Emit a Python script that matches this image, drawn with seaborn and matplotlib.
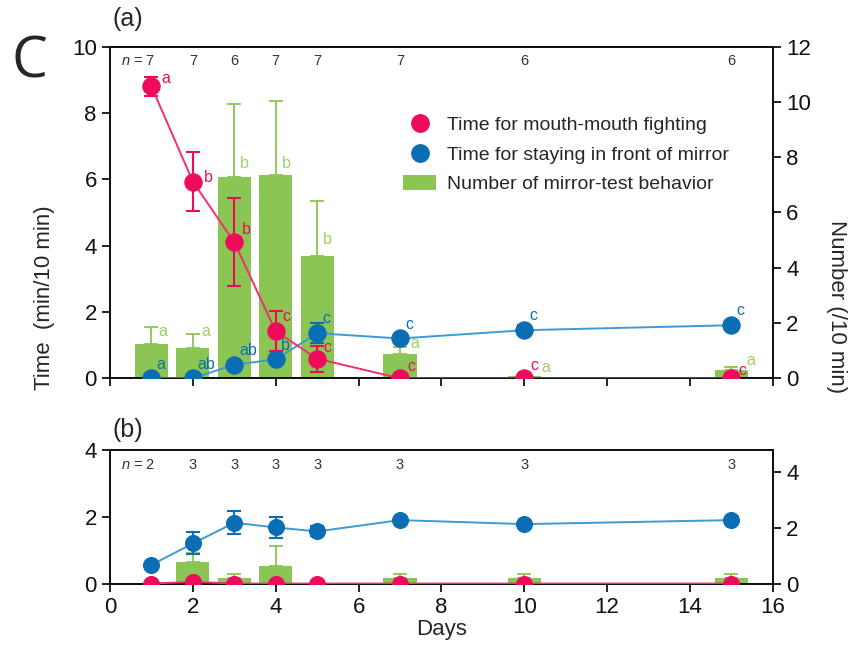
import numpy as np
import pandas as pd
import matplotlib
matplotlib.use("Agg")
import matplotlib.pyplot as plt
from matplotlib.lines import Line2D
from matplotlib.patches import Patch
import seaborn as sns

# ---------------- data ----------------
days = [1, 2, 3, 4, 5, 7, 10, 15]

# panel (a)
a_fight = [8.8, 5.93, 4.1, 1.42, 0.59, 0.0, 0.0, 0.0]
a_fight_err = [0.29, 0.9, 1.33, 0.61, 0.39, 0.0, 0.0, 0.0]
a_mirror = [0.0, 0.0, 0.41, 0.57, 1.36, 1.2, 1.45, 1.6]
a_mirror_err = [0.0, 0.0, 0.05, 0.08, 0.31, 0.1, 0.15, 0.1]
a_count = [1.25, 1.1, 7.28, 7.37, 4.43, 0.89, 0.08, 0.31]
a_count_err = [0.6, 0.51, 2.65, 2.65, 2.0, 0.25, 0.05, 0.1]
a_n = ["7", "7", "6", "7", "7", "7", "6", "6"]
a_fight_letters = ["a", "b", "b", "c", "c", "c", "c", "c"]
a_mirror_letters = ["a", "ab", "ab", "b", "c", "c", "c", "c"]
a_count_letters = ["a", "a", "b", "b", "b", "a", "a", "a"]

# panel (b)
b_fight = [0.0, 0.05, 0.0, 0.0, 0.0, 0.0, 0.0, 0.0]
b_mirror = [0.56, 1.2, 1.82, 1.68, 1.56, 1.9, 1.78, 1.9]
b_mirror_err = [0.0, 0.33, 0.34, 0.32, 0.15, 0.05, 0.05, 0.05]
b_count = [0.0, 0.78, 0.2, 0.64, 0.0, 0.2, 0.2, 0.2]
b_count_err = [0.0, 0.32, 0.13, 0.7, 0.0, 0.13, 0.13, 0.13]
b_n = ["2", "3", "3", "3", "3", "3", "3", "3"]

legend_labels = ["Time for mouth-mouth fighting",
                 "Time for staying in front of mirror",
                 "Number of mirror-test behavior"]

# ---------------- style ----------------
RED = "#EE0B5B"
RED_L = "#F0306F"
BLUE = "#0B6DB4"
BLUE_L = "#3F9AD3"
GREEN = "#8BC553"
GREEN_T = "#9ED064"

sns.set_style("ticks")
plt.rcParams["font.family"] = ["Liberation Sans", "DejaVu Sans"]
plt.rcParams["mathtext.fontset"] = "custom"
plt.rcParams["mathtext.it"] = "Liberation Sans:italic"
plt.rcParams["mathtext.rm"] = "Liberation Sans"

fig = plt.figure(figsize=(8.53, 6.46), dpi=100)
ax_a = fig.add_axes([0.129, 0.4144, 0.777, 0.5134])
ax_b = fig.add_axes([0.129, 0.0967, 0.777, 0.2067])

TICK_FS = 16
LABEL_FS = 16
LET_FS = 11.5


def style_axes(ax, ax2):
    for a in (ax, ax2):
        for s in a.spines.values():
            s.set_linewidth(1.4)
            s.set_color("#111111")
            s.set_visible(True)
    ax.tick_params(axis="both", direction="out", length=6, width=1.3,
                   labelsize=TICK_FS, top=False, right=False, colors="#111111")
    ax2.tick_params(axis="y", direction="out", length=6, width=1.3,
                    labelsize=TICK_FS, colors="#111111")
    ax.set_zorder(ax2.get_zorder() + 1)
    ax.patch.set_visible(False)


def draw_panel(ax, fight, fight_err, mirror, mirror_err, count, count_err, ylim, msize):
    ax2 = ax.twinx()
    df_c = pd.DataFrame({"day": days, "count": count})
    sns.barplot(data=df_c, x="day", y="count", native_scale=True, ax=ax2,
                color=GREEN, saturation=1, errorbar=None, linewidth=0, width=0.8)
    ax2.errorbar(days, count, yerr=[np.zeros(len(count)), count_err], fmt="none",
                 ecolor=GREEN, elinewidth=1.3, capsize=5, capthick=1.3)
    df = pd.DataFrame({"day": days, "fight": fight, "mirror": mirror})
    ax.errorbar(days, mirror, yerr=mirror_err, fmt="none", ecolor=BLUE,
                elinewidth=1.5, capsize=5, capthick=1.5, zorder=3)
    sns.lineplot(data=df, x="day", y="mirror", ax=ax, color=BLUE_L, lw=1.4,
                 marker="o", markersize=msize, markerfacecolor=BLUE,
                 markeredgecolor=BLUE, zorder=4)
    ax.errorbar(days, fight, yerr=fight_err, fmt="none", ecolor=RED,
                elinewidth=1.5, capsize=5, capthick=1.5, zorder=5)
    sns.lineplot(data=df, x="day", y="fight", ax=ax, color=RED_L, lw=1.4,
                 marker="o", markersize=msize, markerfacecolor=RED,
                 markeredgecolor=RED, zorder=6)
    ax.set_xlim(0, 16)
    ax.set_ylim(0, ylim)
    ax2.set_ylim(0, ylim * 1.2)
    ax2.set_xlim(0, 16)
    ax.set_xlabel("")
    ax.set_ylabel("")
    ax2.set_xlabel("")
    ax2.set_ylabel("")
    style_axes(ax, ax2)
    return ax2


# ---------------- panel (a) ----------------
ax2_a = draw_panel(ax_a, a_fight, a_fight_err, a_mirror, a_mirror_err,
                   a_count, a_count_err, 10, 12.5)
ax_a.set_xticks(range(0, 17, 2))
ax_a.set_xticklabels([])
ax_a.set_yticks(range(0, 11, 2))
ax2_a.set_yticks(range(0, 13, 2))

# letters
red_dx = [0.25, 0.27, 0.19, 0.15, 0.15, 0.17, 0.14, 0.16]
red_dy = [0.24, 0.13, 0.4, 0.45, 0.34, 0.35, 0.39, 0.25]
for d, v, t, dx, dy in zip(days, a_fight, a_fight_letters, red_dx, red_dy):
    ax_a.text(d + dx, v + dy, t, color=RED, fontsize=LET_FS, ha="left",
              va="center", zorder=7)
for d, v, t in zip(days, a_mirror, a_mirror_letters):
    ax_a.text(d + 0.12, v + 0.43, t, color=BLUE, fontsize=LET_FS, ha="left",
              va="center", zorder=7)
grn_dx = [0.17, 0.21, 0.14, 0.15, 0.14, 0.26, 0.41, 0.36]
grn_dy = [0.43, 0.58, 0.48, 0.39, 0.59, 0.37, 0.32, 0.33]
for d, v, t, dx, dy in zip(days, a_count, a_count_letters, grn_dx, grn_dy):
    ax_a.text(d + dx, (v + dy) / 1.2, t, color=GREEN_T, fontsize=LET_FS,
              ha="left", va="center", zorder=7)

# n labels
for i, (d, n) in enumerate(zip(days, a_n)):
    if i == 0:
        ax_a.text(d + 0.08, 9.56, r"$n$ = " + n, ha="right", va="center",
                  fontsize=10.5, color="#333333")
    else:
        ax_a.text(d, 9.56, n, ha="center", va="center", fontsize=10.5,
                  color="#333333")

handles = [Line2D([], [], ls="none", marker="o", markersize=12.5,
                  markerfacecolor=RED, markeredgecolor=RED),
           Line2D([], [], ls="none", marker="o", markersize=12.5,
                  markerfacecolor=BLUE, markeredgecolor=BLUE),
           Patch(facecolor=GREEN, edgecolor="none")]
ax_a.legend(handles, legend_labels, loc="upper left",
            bbox_to_anchor=(0.442, 0.79), frameon=False, fontsize=14,
            handlelength=1.7, handleheight=0.8, handletextpad=0.57,
            labelspacing=0.58, borderpad=0, borderaxespad=0)

# ---------------- panel (b) ----------------
ax2_b = draw_panel(ax_b, b_fight, [0] * 8, b_mirror, b_mirror_err,
                   b_count, b_count_err, 4, 11.5)
ax_b.set_xticks(range(0, 17, 2))
ax_b.set_xticklabels([str(v) for v in range(0, 17, 2)])
ax_b.set_yticks([0, 2, 4])
ax2_b.set_yticks([0, 2, 4])
ax_b.set_xlabel("Days", fontsize=LABEL_FS, labelpad=1)

for i, (d, n) in enumerate(zip(days, b_n)):
    if i == 0:
        ax_b.text(d + 0.08, 3.55, r"$n$ = " + n, ha="right", va="center",
                  fontsize=10.5, color="#333333")
    else:
        ax_b.text(d, 3.55, n, ha="center", va="center", fontsize=10.5,
                  color="#333333")

# ---------------- figure text ----------------
fig.text(112 / 853, 1 - 19 / 646, "(a)", fontsize=18, ha="left", va="center")
fig.text(112 / 853, 1 - 430 / 646, "(b)", fontsize=18, ha="left", va="center")
fig.text(12 / 853, 1 - 63 / 646, "C", fontsize=41, ha="left", va="center",
         family=["Open Sans", "DejaVu Sans"])
fig.text(45 / 853, 1 - 298 / 646, "Time  (min/10 min)", fontsize=LABEL_FS,
         rotation=90, ha="center", va="center")
fig.text(837 / 853, 1 - 307 / 646, "Number (/10 min)", fontsize=LABEL_FS,
         rotation=270, ha="center", va="center")

fig.savefig("out.png", dpi=100)
